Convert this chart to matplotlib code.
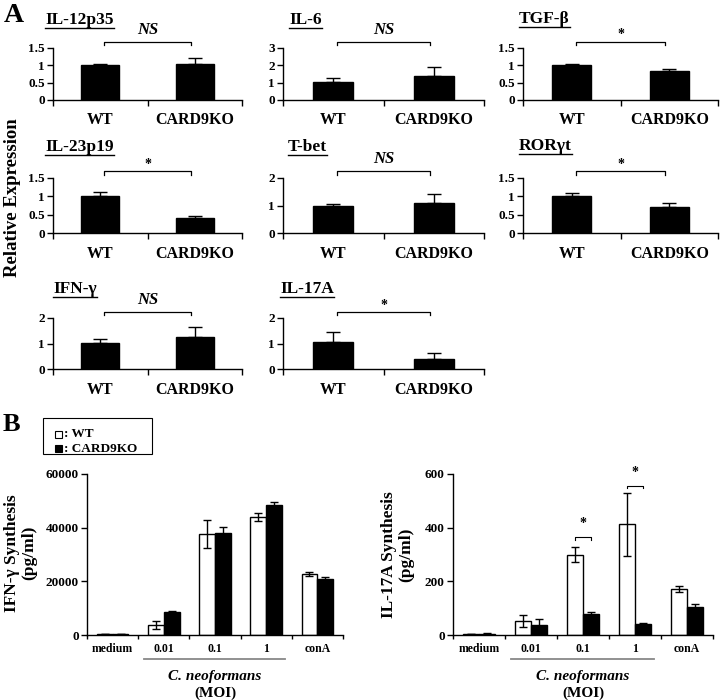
import numpy as np
import matplotlib
matplotlib.use('Agg')
import matplotlib.pyplot as plt
from matplotlib.lines import Line2D
from matplotlib.patches import Rectangle
import matplotlib.transforms as mtransforms

plt.rcParams['font.family'] = ['Liberation Serif', 'DejaVu Serif']
plt.rcParams['font.weight'] = 'bold'
plt.rcParams['axes.linewidth'] = 1.0

########### data #################
# panel A: relative expression
genes = ['IL-12p35', 'IL-6', 'TGF-β', 'IL-23p19', 'T-bet', 'RORγt', 'IFN-γ', 'IL-17A']
groups = ['WT', 'CARD9KO']
wt_rel = [1.0, 1.05, 1.0, 1.0, 1.0, 1.0, 1.01, 1.07]
wt_err = [0.05, 0.23, 0.03, 0.12, 0.04, 0.1, 0.17, 0.37]
ko_rel = [1.05, 1.39, 0.85, 0.4, 1.1, 0.72, 1.24, 0.4]
ko_err = [0.17, 0.53, 0.05, 0.07, 0.33, 0.1, 0.39, 0.22]
ymax_rel = [1.5, 3, 1.5, 1.5, 2, 1.5, 2, 2]
sig_rel = ['NS', 'NS', '*', '*', 'NS', '*', 'NS', '*']

# panel B: cytokine synthesis
conds = ['medium', '0.01', '0.1', '1', 'conA']
ifng_wt = [300, 3700, 37700, 44100, 22700]
ifng_wt_err = [100, 1600, 5300, 1500, 800]
ifng_ko = [400, 8500, 38000, 48300, 20900]
ifng_ko_err = [100, 600, 2100, 1100, 800]
il17_wt = [3, 52, 299, 413, 173]
il17_wt_err = [1, 23, 28, 118, 11]
il17_ko = [5, 37, 77, 41, 103]
il17_ko_err = [1, 21, 8, 4, 11]

W, H = 720, 700
fig = plt.figure(figsize=(W / 100, H / 100), dpi=100)


def ax_px(x0, ytop, x1, ybot):
    return fig.add_axes([x0 / W, 1 - ybot / H, (x1 - x0) / W, (ybot - ytop) / H])


def fig_text(x, y, s, **kw):
    return fig.text(x / W, 1 - y / H, s, **kw)


########### panel A #################
col_x = [(53, 242), (283, 484), (523, 718)]
row_y = [(48, 100), (178, 233), (318, 369)]
title_xy = [(45, 24), (289, 24), (519, 23), (45, 151), (288, 151), (519, 150), (53, 293), (280, 293)]

titles = []
for i, g in enumerate(genes):
    r, c = divmod(i, 3)
    ax = ax_px(col_x[c][0], row_y[r][0], col_x[c][1], row_y[r][1])
    xs = np.arange(2)
    ax.bar(xs, [wt_rel[i], ko_rel[i]], width=0.4, color='black', edgecolor='black')
    ax.errorbar(xs, [wt_rel[i], ko_rel[i]], yerr=[[0, 0], [wt_err[i], ko_err[i]]],
                fmt='none', ecolor='black', elinewidth=1, capsize=5, capthick=1)
    top = ymax_rel[i]
    ax.set_ylim(0, top)
    ax.set_xlim(-0.5, 1.5)
    if top == 1.5:
        ax.set_yticks([0, 0.5, 1, 1.5])
        ax.set_yticklabels(['0', '0.5', '1', '1.5'])
    else:
        ax.set_yticks(np.arange(0, top + 1))
    ax.set_xticks(xs)
    ax.set_xticklabels(groups, fontsize=11.5, fontweight='bold')
    ax.set_xticks([-0.5, 0.5, 1.5], minor=True)
    ax.tick_params(axis='x', which='major', length=0, pad=9)
    ax.tick_params(axis='x', which='minor', length=4, width=1, direction='out')
    ax.tick_params(axis='y', labelsize=9.5, length=4, width=1, pad=2)
    for s in ['top', 'right']:
        ax.spines[s].set_visible(False)
    # significance bracket
    yb = top * 1.12
    ax.plot([0.04, 0.04, 0.96, 0.96], [top * 1.06, yb, yb, top * 1.06],
            color='black', lw=0.9, clip_on=False)
    if sig_rel[i] == 'NS':
        ax.text(0.5, top * 1.35, 'NS', ha='center', va='center', fontsize=12,
                fontstyle='italic', fontweight='bold')
    else:
        ax.text(0.5, top * 1.25, '*', ha='center', va='center', fontsize=10)
    t = fig_text(title_xy[i][0], title_xy[i][1], g, fontsize=12.5, fontweight='bold',
                 ha='left', va='baseline')
    titles.append(t)

fig_text(4, 16, 'A', fontsize=20, fontweight='bold', va='center')
fig_text(13, 198, 'Relative Expression', fontsize=13.5, fontweight='bold',
         rotation=90, ha='center', va='center')

########### panel B #################
fig_text(3, 425, 'B', fontsize=19, fontweight='bold', va='center')

# legend box
fig.patches.append(Rectangle((43 / W, 1 - 454 / H), 109 / W, 36 / H, transform=fig.transFigure,
                             facecolor='white', edgecolor='black', lw=0.8))
fig.patches.append(Rectangle((55 / W, 1 - 438 / H), 7 / W, 7 / H, transform=fig.transFigure,
                             facecolor='white', edgecolor='black', lw=0.8))
fig.patches.append(Rectangle((55 / W, 1 - 452 / H), 7 / W, 7 / H, transform=fig.transFigure,
                             facecolor='black', edgecolor='black', lw=0.8))
fig_text(63.5, 434.5, ': WT', fontsize=9.5, fontweight='bold', va='center')
fig_text(63.5, 448.5, ': CARD9KO', fontsize=9.5, fontweight='bold', va='center')


def cyto_panel(ax, wt, wt_e, ko, ko_e, ymax, ystep):
    xs = np.arange(len(conds))
    bw = 0.31
    ax.bar(xs - bw / 2, wt, width=bw, color='white', edgecolor='black', lw=1)
    ax.bar(xs + bw / 2, ko, width=bw, color='black', edgecolor='black', lw=1)
    ax.errorbar(xs - bw / 2, wt, yerr=wt_e, fmt='none', ecolor='black', elinewidth=1,
                capsize=3, capthick=1)
    ax.errorbar(xs + bw / 2, ko, yerr=ko_e, fmt='none', ecolor='black', elinewidth=1,
                capsize=3, capthick=1)
    ax.set_xlim(-0.5, len(conds) - 0.5)
    ax.set_ylim(0, ymax)
    ax.set_yticks(np.arange(0, ymax + 1, ystep))
    ax.tick_params(axis='y', labelsize=9.5, length=4, width=1, pad=2)
    ax.set_xticks(xs)
    ax.set_xticklabels(conds, fontsize=8.5, fontweight='bold')
    ax.set_xticks(np.arange(-0.5, len(conds)), minor=True)
    ax.tick_params(axis='x', which='major', length=0, pad=6)
    ax.tick_params(axis='x', which='minor', length=3, width=1, direction='out')
    for s in ['top', 'right']:
        ax.spines[s].set_visible(False)
    tr = mtransforms.blended_transform_factory(ax.transData, ax.transAxes)
    ax.plot([0.62, 3.36], [-0.148, -0.148], color='#888888', lw=1.3, transform=tr, clip_on=False)
    ax.text(2, -0.26, 'C. neoformans', transform=tr, ha='center', va='center',
            fontsize=11, fontstyle='italic', fontweight='bold')
    ax.text(2, -0.36, '(MOI)', transform=tr, ha='center', va='center',
            fontsize=11, fontweight='bold')
    return xs, bw


axl = ax_px(87, 474, 343, 635)
cyto_panel(axl, ifng_wt, ifng_wt_err, ifng_ko, ifng_ko_err, 60000, 20000)
fig_text(21, 553, 'IFN-γ Synthesis\n(pg/ml)', fontsize=12.5, fontweight='bold',
         rotation=90, ha='center', va='center', multialignment='center', linespacing=1.1)

axr = ax_px(453, 474, 713, 635)
xs, bw = cyto_panel(axr, il17_wt, il17_wt_err, il17_ko, il17_ko_err, 600, 200)
fig_text(398, 555, 'IL-17A Synthesis\n(pg/ml)', fontsize=12.5, fontweight='bold',
         rotation=90, ha='center', va='center', multialignment='center', linespacing=1.1)
for k, yb in [(2, 365), (3, 557)]:
    axr.plot([xs[k] - bw / 2, xs[k] - bw / 2, xs[k] + bw / 2, xs[k] + bw / 2],
             [yb - 10, yb, yb, yb - 10], color='black', lw=0.8, clip_on=False)
    axr.text(xs[k], yb + 50, '*', ha='center', va='center', fontsize=10)

########### underline the gene titles #################
fig.canvas.draw()
renderer = fig.canvas.get_renderer()
inv = fig.transFigure.inverted()
for t in titles:
    bb = t.get_window_extent(renderer)
    (x0, y0), (x1, _) = inv.transform([(bb.x0, bb.y0 + 0.5), (bb.x1, bb.y0)])
    fig.lines.append(Line2D([x0, x1], [y0, y0], transform=fig.transFigure, color='black', lw=1))

fig.savefig('out.png', dpi=100)
